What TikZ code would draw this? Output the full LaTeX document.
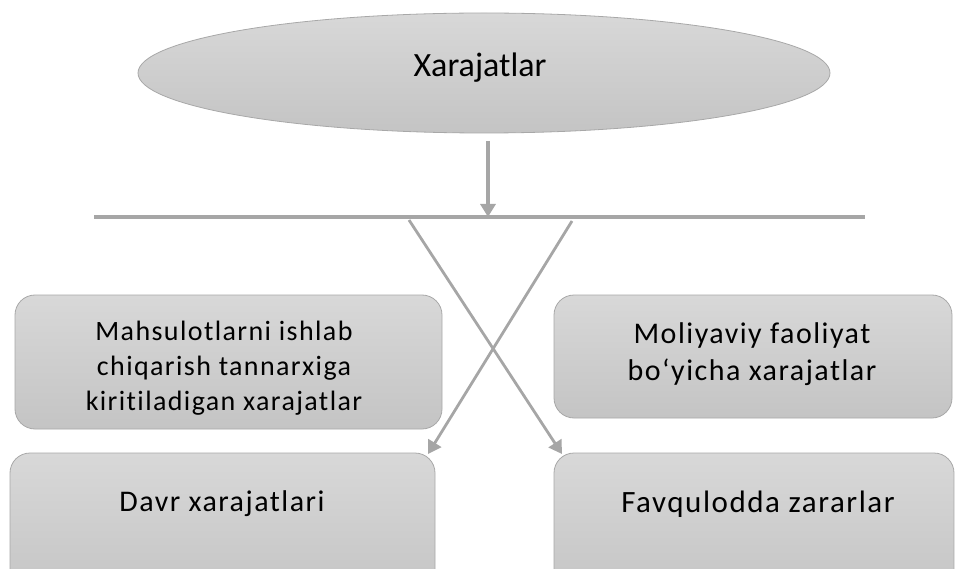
\documentclass[tikz,border=0pt]{standalone}
\usepackage{fontspec}
\setmainfont{Carlito}[Ligatures=NoCommon]
\newfontfamily\boxfont{Carlito}[LetterSpace=5,Ligatures=NoCommon]
\usetikzlibrary{shapes.geometric,arrows.meta}
\definecolor{ln}{HTML}{A6A6A6}
\definecolor{bd}{HTML}{A8A8A8}
\definecolor{ftop}{HTML}{D8D8D8}
\definecolor{fbot}{HTML}{C4C4C4}
\begin{document}
\begin{tikzpicture}[x=1pt,y=-1pt,
  oval/.style={ellipse, draw=bd, line width=0.8pt, top color=ftop, bottom color=fbot,
    minimum width=692pt, minimum height=120pt, inner sep=0pt},
  box/.style={draw=bd, line width=0.8pt, rounded corners=20pt, top color=ftop,
    bottom color=fbot, inner sep=0pt},
  txt/.style={align=center, inner sep=0pt, text=black},
  conn/.style={draw=ln, line width=2.8pt},
  arr/.style={conn, -{Triangle[width=15pt,length=13pt]}}
]
\useasboundingbox (0,0) rectangle (955,569);
\clip (0,0) rectangle (955,569);

\node[oval] (top) at (484,73) {};
\node[txt, font=\fontsize{34}{40}\selectfont] (t0) at (480,68) {Xarajatlar};

\node[box, minimum width=427pt, minimum height=134pt] (b1) at (228.5,362) {};
\node[box, minimum width=398pt, minimum height=123pt] (b2) at (753,356.5) {};
\node[box, minimum width=425pt, minimum height=147pt] (b3) at (222.5,526.5) {};
\node[box, minimum width=400pt, minimum height=147pt] (b4) at (754,526.5) {};

\node[txt, font=\boxfont\fontsize{28}{35}\selectfont] (t1) at (224,368) {Mahsulotlarni ishlab\\chiqarish tannarxiga\\kiritiladigan xarajatlar};
\node[txt, font=\boxfont\fontsize{30}{37}\selectfont] (t2) at (752,354) {Moliyaviy faoliyat\\bo‘yicha xarajatlar};
\node[txt, font=\boxfont\fontsize{30}{37}\selectfont] (t3) at (222,504) {Davr xarajatlari};
\node[txt, font=\boxfont\fontsize{31}{37}\selectfont] (t4) at (758,504) {Favqulodda zararlar};

\coordinate (hl) at (94,217);
\coordinate (hr) at (865,217);
\coordinate (hm) at (488,217);
\coordinate (a0) at (488,141);
\coordinate (d1s) at (409,220);
\coordinate (d1e) at (562,454);
\coordinate (d2s) at (572,221);
\coordinate (d2e) at (428,454);

\draw[conn, line width=3.2pt] (hl) -- (hr);
\draw[arr, line width=3.2pt] (a0) -- (hm);
\draw[arr] (d1s) -- (d1e);
\draw[arr] (d2s) -- (d2e);
\end{tikzpicture}
\end{document}
